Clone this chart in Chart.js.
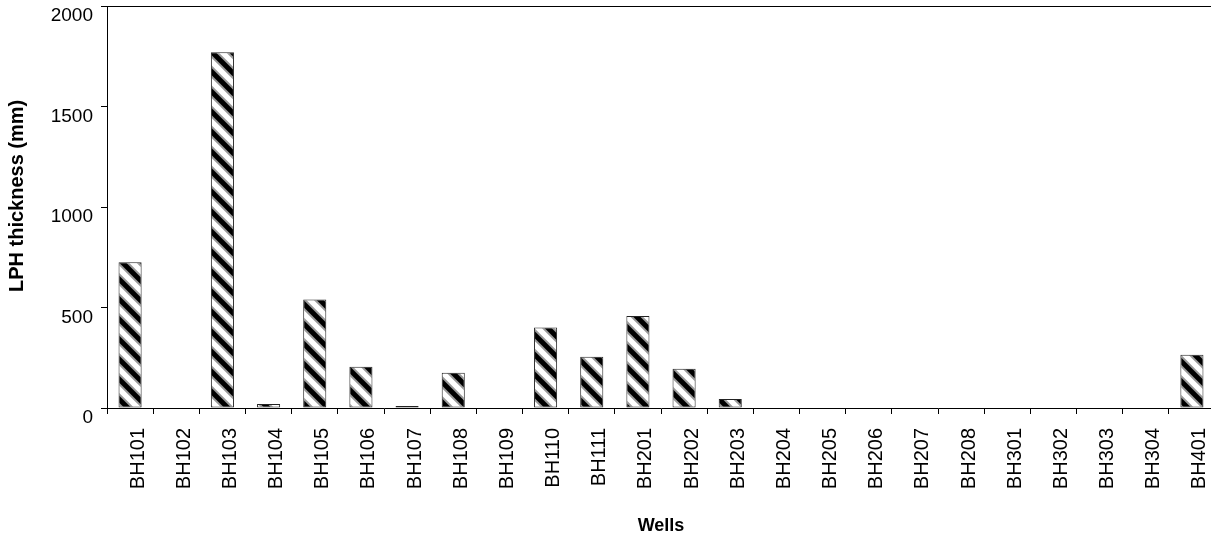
<!DOCTYPE html>
<html>
<head>
<meta charset="utf-8">
<script src="https://cdn.jsdelivr.net/npm/chart.js@4/dist/chart.umd.min.js"></script>
<style>
  html, body { margin: 0; padding: 0; background: #fff; overflow: hidden; }
  #wrap { width: 1215px; height: 540px; position: relative; }
</style>
</head>
<body>
<div id="wrap"><canvas id="bar-chart"></canvas></div>
<script>
const wells = ['BH101', 'BH102', 'BH103', 'BH104', 'BH105', 'BH106', 'BH107', 'BH108',
  'BH109', 'BH110', 'BH111', 'BH201', 'BH202', 'BH203', 'BH204', 'BH205', 'BH206',
  'BH207', 'BH208', 'BH301', 'BH302', 'BH303', 'BH304', 'BH401'];
const lphThickness = [725, 0, 1770, 20, 540, 205, 10, 175, 0, 400, 255, 458, 195, 45,
  0, 0, 0, 0, 0, 0, 0, 0, 0, 265];
const yTicks = [0, 500, 1000, 1500, 2000];

// hatch pattern like the old excel "wide downward diagonal"
const tile = document.createElement('canvas');
tile.width = 20;
tile.height = 20;
const t = tile.getContext('2d');
t.fillStyle = '#fff';
t.fillRect(0, 0, 20, 20);
function stripes(color, w) {
  t.strokeStyle = color;
  t.lineWidth = w;
  t.beginPath();
  for (let k = -20; k <= 20; k += 20) {
    t.moveTo(-5, k - 5);
    t.lineTo(25, k + 25);
  }
  t.stroke();
}
stripes('#9a9a9a', 9);
stripes('#000', 5);
const hatch = t.createPattern(tile, 'repeat');

const font = "'Liberation Sans', Arial, sans-serif";

const frame = {
  id: 'frame',
  afterDraw(chart) {
    const { ctx, chartArea } = chart;
    ctx.save();
    ctx.strokeStyle = '#000';
    ctx.lineWidth = 1;
    ctx.beginPath();
    ctx.moveTo(chartArea.left, chartArea.top + 0.5);
    ctx.lineTo(chartArea.right, chartArea.top + 0.5);
    ctx.lineTo(chartArea.right - 0.5, chartArea.bottom);
    ctx.stroke();
    ctx.restore();
  }
};

new Chart(document.getElementById('bar-chart'), {
  type: 'bar',
  data: {
    labels: wells,
    datasets: [{
      data: lphThickness,
      backgroundColor: hatch,
      borderColor: '#222',
      borderWidth: 1,
      borderSkipped: false,
      barPercentage: 1,
      categoryPercentage: 0.5
    }]
  },
  options: {
    responsive: true,
    maintainAspectRatio: false,
    animation: false,
    devicePixelRatio: 1,
    layout: { padding: { top: 6, left: 0, right: 0, bottom: 0 } },
    plugins: {
      legend: { display: false },
      tooltip: { enabled: false }
    },
    scales: {
      x: {
        grid: {
          display: true,
          drawOnChartArea: false,
          drawTicks: true,
          tickLength: 6,
          color: '#000'
        },
        border: { display: true, color: '#000', width: 1 },
        ticks: {
          color: '#000',
          font: { family: font, size: 20 },
          minRotation: 90,
          maxRotation: 90,
          autoSkip: false,
          padding: 14,
          labelOffset: 8
        },
        title: {
          display: true,
          text: 'Wells',
          color: '#000',
          font: { family: font, size: 18, weight: 'bold' },
          padding: { top: 0, bottom: 3 }
        },
        afterFit(scale) {
          scale.height = 132;
          scale.paddingLeft = 0;
          scale.paddingRight = 0;
        }
      },
      y: {
        min: 0,
        max: 2000,
        afterBuildTicks(scale) { scale.ticks = yTicks.map(v => ({ value: v })); },
        grid: {
          display: true,
          drawOnChartArea: false,
          drawTicks: true,
          tickLength: 6,
          color: '#000'
        },
        border: { display: true, color: '#000', width: 1 },
        ticks: {
          color: '#000',
          font: { family: font, size: 19 },
          padding: 8,
          labelOffset: 10,
          callback: v => String(v)
        },
        title: {
          display: true,
          text: '    LPH thickness (mm)',
          color: '#000',
          font: { family: font, size: 20, weight: 'bold' },
          padding: { top: 5, bottom: 0 }
        },
        afterFit(scale) {
          scale.width = 107;
          scale.paddingTop = 0;
          scale.paddingBottom = 0;
        }
      }
    }
  },
  plugins: [frame]
});
</script>
</body>
</html>
